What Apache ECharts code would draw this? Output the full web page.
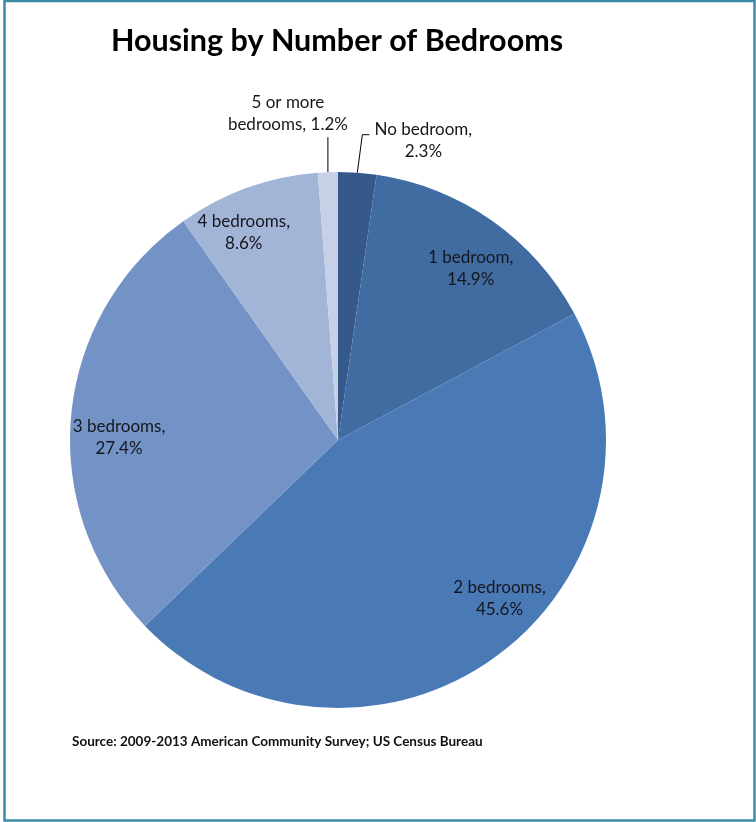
<!DOCTYPE html>
<html>
<head>
<meta charset="utf-8">
<title>Housing by Number of Bedrooms</title>
<script src="https://cdn.jsdelivr.net/npm/echarts@6/dist/echarts.min.js"></script>
<style>
  html, body { margin: 0; padding: 0; background: #ffffff; }
  #chart { width: 756px; height: 822px; }
</style>
</head>
<body>
<div id="chart"></div>
<script>
// Share of housing units by number of bedrooms (percent)
const categories = ['No bedroom', '1 bedroom', '2 bedrooms', '3 bedrooms', '4 bedrooms', '5 or more bedrooms'];
const shares = [2.3, 14.9, 45.6, 27.4, 8.6, 1.2];
const sliceColors = ['#34598a', '#406ca1', '#4a7ab6', '#7393c6', '#a3b5d7', '#c6d0e6'];

const titleText = 'Housing by Number of Bedrooms';
const sourceText = 'Source: 2009-2013 American Community Survey; US Census Bureau';

// Slices too thin to hold their label get an outside label with a leader line
const outsideIdx = [0, 5];
// Nudges for the inside labels so they sit in the open part of each slice
const insideShift = { 1: [5, 10], 2: [31, -21], 3: [2, 18], 4: [-19, 1] };

const FONT = 'Lato, "Open Sans", sans-serif';
const TEXT = '#16161e';
const CX = 338, CY = 440, R = 268;

function labelText(name, value) {
  if (name.indexOf('or more') >= 0) {
    return name.replace(' bedrooms', '\nbedrooms') + ', ' + value + '%';
  }
  return name + ',\n' + value + '%';
}

const pieData = categories.map((name, i) => ({
  name: name,
  value: shares[i],
  itemStyle: { color: sliceColors[i] }
}));

const chart = echarts.init(document.getElementById('chart'), null, { renderer: 'canvas' });

const labelBase = {
  fontFamily: FONT,
  fontSize: 17,
  lineHeight: 22,
  color: TEXT,
  align: 'center',
  formatter: p => labelText(p.name, p.value)
};

chart.setOption({
  backgroundColor: '#ffffff',
  animation: false,
  graphic: [
    {
      type: 'rect',
      shape: { x: 4.5, y: 1, width: 750, height: 819.5 },
      style: { fill: 'none', stroke: '#3a8ca6', lineWidth: 2.5 },
      silent: true,
      z: 10
    },
    {
      type: 'text',
      x: 337, y: 41,
      style: {
        text: titleText,
        font: 'bold 30.5px ' + FONT,
        fill: '#000000',
        align: 'center',
        verticalAlign: 'middle'
      }
    },
    {
      type: 'text',
      x: 72, y: 742,
      style: {
        text: sourceText,
        font: 'bold 13.5px ' + FONT,
        fill: '#111111',
        align: 'left',
        verticalAlign: 'middle'
      }
    }
  ],
  series: [
    {
      // Filled slices, with outside labels for the two thin slices
      type: 'pie',
      center: [CX, CY],
      radius: R,
      startAngle: 90,
      clockwise: true,
      avoidLabelOverlap: false,
      silent: true,
      itemStyle: { borderWidth: 0 },
      data: pieData.map((d, i) => Object.assign({}, d, {
        label: Object.assign({}, labelBase, { show: outsideIdx.includes(i), position: 'outside' }),
        labelLine: { show: outsideIdx.includes(i), length: 20, length2: 6, lineStyle: { color: '#000000', width: 1 } }
      })),
      labelLayout: function (params) {
        const pts = params.labelLinePoints;
        if (!pts || !pts.length) return {};
        const p0 = pts[0];
        if (params.dataIndex === 0) {
          return {
            x: p0[0] + 66, y: p0[1] - 32,
            align: 'center', verticalAlign: 'middle',
            labelLinePoints: [[p0[0], p0[1]], [p0[0] + 5, p0[1] - 38], [p0[0] + 12, p0[1] - 38]]
          };
        }
        if (params.dataIndex === 5) {
          return {
            x: p0[0] - 40, y: p0[1] - 59,
            align: 'center', verticalAlign: 'middle',
            labelLinePoints: [[p0[0], p0[1]], [p0[0], p0[1] - 35], [p0[0], p0[1] - 35]]
          };
        }
        return {};
      }
    },
    {
      // Transparent ring that carries the inside labels at ~80% of the radius
      type: 'pie',
      center: [CX, CY],
      radius: [170, R],
      startAngle: 90,
      clockwise: true,
      avoidLabelOverlap: false,
      silent: true,
      itemStyle: { color: 'rgba(0,0,0,0)', borderWidth: 0 },
      labelLine: { show: false },
      data: pieData.map((d, i) => ({
        name: d.name,
        value: d.value,
        itemStyle: { color: 'rgba(0,0,0,0)' },
        label: Object.assign({}, labelBase, { show: !outsideIdx.includes(i), position: 'inside' })
      })),
      labelLayout: function (params) {
        const s = insideShift[params.dataIndex];
        if (!s) return {};
        const r = params.labelRect;
        return {
          x: r.x + r.width / 2 + s[0],
          y: r.y + r.height / 2 + s[1],
          align: 'center',
          verticalAlign: 'middle'
        };
      }
    }
  ]
});
</script>
</body>
</html>
